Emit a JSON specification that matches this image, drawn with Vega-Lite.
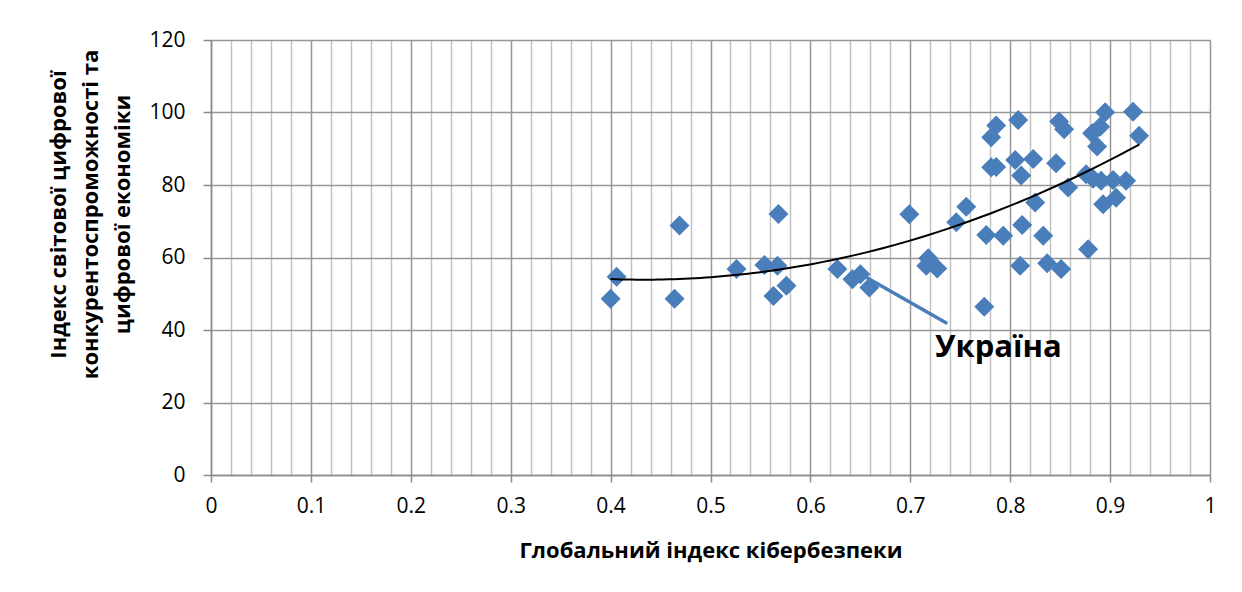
{
  "$schema": "https://vega.github.io/schema/vega-lite/v6.json",
  "width": 999,
  "height": 435,
  "autosize": "none",
  "padding": {"left": 211, "top": 40, "right": 32, "bottom": 117},
  "background": "white",
  "config": {"view": {"stroke": null}, "font": "Open Sans"},
  "datasets": {
    "points": [
      {"x": 0.400, "y": 48.6}, {"x": 0.406, "y": 54.7}, {"x": 0.464, "y": 48.6}, {"x": 0.469, "y": 68.8},
      {"x": 0.526, "y": 56.8}, {"x": 0.554, "y": 57.9}, {"x": 0.567, "y": 57.7}, {"x": 0.568, "y": 72.0},
      {"x": 0.563, "y": 49.4}, {"x": 0.576, "y": 52.2}, {"x": 0.627, "y": 56.8}, {"x": 0.642, "y": 54.0},
      {"x": 0.650, "y": 55.4}, {"x": 0.659, "y": 51.7}, {"x": 0.699, "y": 71.9}, {"x": 0.746, "y": 69.7},
      {"x": 0.756, "y": 74.0}, {"x": 0.776, "y": 66.2}, {"x": 0.793, "y": 66.0}, {"x": 0.812, "y": 69.0},
      {"x": 0.833, "y": 66.0}, {"x": 0.825, "y": 75.2}, {"x": 0.781, "y": 93.2}, {"x": 0.786, "y": 96.4},
      {"x": 0.808, "y": 97.9}, {"x": 0.781, "y": 84.9}, {"x": 0.786, "y": 85.0}, {"x": 0.805, "y": 86.9},
      {"x": 0.823, "y": 87.2}, {"x": 0.811, "y": 82.6}, {"x": 0.846, "y": 86.0}, {"x": 0.849, "y": 97.5},
      {"x": 0.854, "y": 95.4}, {"x": 0.858, "y": 79.3}, {"x": 0.882, "y": 94.3}, {"x": 0.890, "y": 96.1},
      {"x": 0.895, "y": 100.1}, {"x": 0.887, "y": 90.6}, {"x": 0.923, "y": 100.2}, {"x": 0.929, "y": 93.6},
      {"x": 0.876, "y": 83.0}, {"x": 0.883, "y": 81.7}, {"x": 0.891, "y": 81.2}, {"x": 0.903, "y": 81.4},
      {"x": 0.916, "y": 81.2}, {"x": 0.893, "y": 74.7}, {"x": 0.906, "y": 76.5}, {"x": 0.718, "y": 59.8},
      {"x": 0.727, "y": 57.0}, {"x": 0.716, "y": 57.7}, {"x": 0.810, "y": 57.7}, {"x": 0.837, "y": 58.4},
      {"x": 0.851, "y": 56.8}, {"x": 0.878, "y": 62.3}, {"x": 0.774, "y": 46.4}
    ],
    "pointer": [{"x": 0.654, "y": 54.8, "x2": 0.737, "y2": 41.8}],
    "label": [{"x": 0.7247, "y": 32.6, "label": "Україна"}]
  },
  "encoding": {
    "x": {
      "field": "x", "type": "quantitative",
      "scale": {"domain": [0, 1], "nice": false, "zero": false},
      "axis": {
        "values": [0,0.02,0.04,0.06,0.08,0.1,0.12,0.14,0.16,0.18,0.2,0.22,0.24,0.26,0.28,0.3,0.32,0.34,0.36,0.38,0.4,0.42,0.44,0.46,0.48,0.5,0.52,0.54,0.56,0.58,0.6,0.62,0.64,0.66,0.68,0.7,0.72,0.74,0.76,0.78,0.8,0.82,0.84,0.86,0.88,0.9,0.92,0.94,0.96,0.98,1],
        "title": "Глобальний індекс кібербезпеки",
        "titleFont": "Open Sans", "titleFontWeight": "bold", "titleFontSize": 22, "titleColor": "black",
        "titleX": 499.5, "titleY": 82, "titleAlign": "center", "titleBaseline": "alphabetic",
        "labelExpr": "round(datum.value*50) % 5 === 0 ? format(datum.value, '~g') : ''",
        "labelFont": "Open Sans", "labelFontSize": 21, "labelColor": "black", "labelPadding": 13,
        "labelOverlap": false, "labelFlush": false, "labelBound": false,
        "grid": true,
        "gridColor": {"condition": {"test": "round(datum.value*50) % 5 === 0", "value": "#969696"}, "value": "#c2c2c2"},
        "gridWidth": 1.5,
        "tickSize": 7, "tickColor": "#8a8a8a", "tickWidth": 1.5,
        "tickOpacity": {"condition": {"test": "round(datum.value*50) % 5 === 0", "value": 1}, "value": 0},
        "domainColor": "#8a8a8a", "domainWidth": 1.5
      }
    },
    "y": {
      "field": "y", "type": "quantitative",
      "scale": {"domain": [0, 120], "nice": false},
      "axis": {
        "values": [0, 20, 40, 60, 80, 100, 120],
        "title": ["Індекс світової цифрової", "конкурентоспроможності та", "цифрової економіки"],
        "titleFont": "Open Sans", "titleFontWeight": "bold", "titleFontSize": 22, "titleColor": "black",
        "titleLineHeight": 32, "titleX": -153, "titleY": 174, "titleAngle": 270,
        "titleAlign": "center", "titleBaseline": "middle",
        "labelFont": "Open Sans", "labelFontSize": 21, "labelColor": "black", "labelPadding": 18,
        "grid": true, "gridColor": "#969696", "gridWidth": 1.5,
        "tickSize": 8, "tickColor": "#8a8a8a", "tickWidth": 1.5,
        "domainColor": "#8a8a8a", "domainWidth": 1.5
      }
    }
  },
  "layer": [
    {
      "data": {"name": "points"},
      "mark": {"type": "point", "shape": "diamond", "filled": true, "size": 400, "color": "#4a7ebb", "opacity": 1}
    },
    {
      "data": {"name": "pointer"},
      "mark": {"type": "rule", "color": "#4a7ebb", "strokeWidth": 3.5},
      "encoding": {"x2": {"field": "x2"}, "y2": {"field": "y2"}}
    },
    {
      "data": {"name": "points"},
      "transform": [{"regression": "y", "on": "x", "method": "poly", "order": 2}],
      "mark": {"type": "line", "color": "black", "strokeWidth": 2}
    },
    {
      "data": {"name": "label"},
      "mark": {"type": "text", "align": "left", "baseline": "alphabetic", "font": "Open Sans", "fontSize": 31, "fontWeight": "bold", "color": "black"},
      "encoding": {"text": {"field": "label"}}
    }
  ]
}
